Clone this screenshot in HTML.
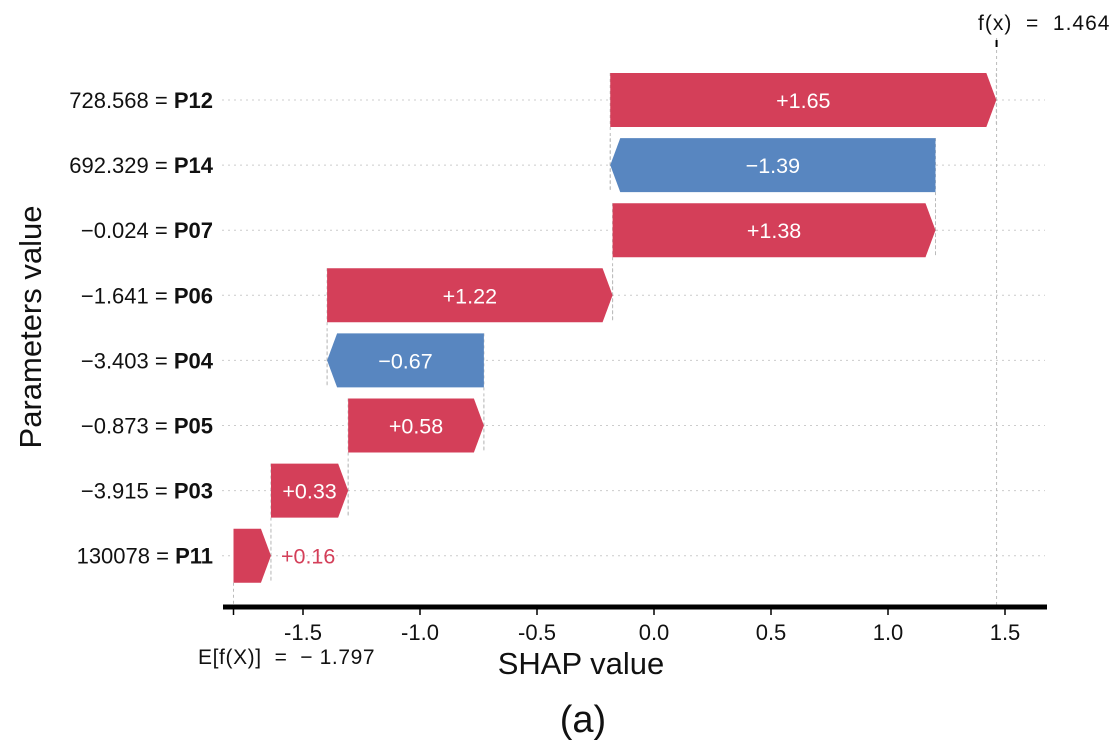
<!DOCTYPE html>
<html><head><meta charset="utf-8">
<style>
html,body{margin:0;padding:0;background:#fff;}
svg{display:block;font-family:"Liberation Sans",Arial,sans-serif;}
.pre{white-space:pre;}
</style></head>
<body>
<svg id="chart" width="1120" height="750" viewBox="0 0 1120 750"></svg>
<script>
const features = ["P12","P14","P07","P06","P04","P05","P03","P11"];
const featureValues = ["728.568","692.329","\u22120.024","\u22121.641","\u22123.403","\u22120.873","\u22123.915","130078"];
const shapValues = [1.65,-1.39,1.38,1.22,-0.67,0.58,0.33,0.16];
const baseValue = -1.797;
const outputValue = 1.464;
const xTicks = [-1.5,-1.0,-0.5,0.0,0.5,1.0,1.5];

const NS="http://www.w3.org/2000/svg";
const svg=document.getElementById('chart');
function X(v){return 654+v*234;}
function Y(i){return 100+i*65.1;}
function mk(tag,attrs,parent){const e=document.createElementNS(NS,tag);for(const k in attrs)e.setAttribute(k,attrs[k]);(parent||svg).appendChild(e);return e;}
const RED="#d43f59",BLUE="#5886c0";
const n=features.length;
for(let i=0;i<n;i++){
  const g=mk('line',{x1:222,x2:1045,y1:Y(i),y2:Y(i),stroke:'#ccc','stroke-width':1,'stroke-dasharray':'2,4'});
  
  
}
const starts=new Array(n),ends=new Array(n);
let cum=baseValue;
for(let i=n-1;i>=0;i--){starts[i]=cum;cum+=shapValues[i];ends[i]=cum;}
const fl=mk('line',{x1:X(outputValue),x2:X(outputValue),y1:38,y2:605,stroke:'#bbb','stroke-width':1,'stroke-dasharray':'3,3'});


mk('line',{x1:X(outputValue),x2:X(outputValue),y1:40,y2:47,stroke:'#000','stroke-width':2});
const bl=mk('line',{x1:X(baseValue),x2:X(baseValue),y1:Y(n-1)+27,y2:605,stroke:'#bbb','stroke-width':1,'stroke-dasharray':'3,3'});


for(let i=0;i<n-1;i++){
  const c=mk('line',{x1:X(starts[i]),x2:X(starts[i]),y1:Y(i)-27,y2:Y(i+1)+27,stroke:'#bbb','stroke-width':1,'stroke-dasharray':'3,3'});
  
  
}
for(let i=0;i<n;i++){
  const c=mk('line',{x1:X(ends[i]),x2:X(ends[i]),y1:Y(i)-27,y2:Y(i)+27,stroke:'#bbb','stroke-width':1,'stroke-dasharray':'3,3'});
  
  
}
for(let i=0;i<n;i++){
  const v=shapValues[i],y=Y(i),h=27,a=10;
  const x0=X(starts[i]),x1=X(ends[i]);
  let pts;
  if(v>=0){const xb=Math.max(x0,x1-a);pts=`${x0},${y-h} ${xb},${y-h} ${x1},${y} ${xb},${y+h} ${x0},${y+h}`;}
  else{const xb=Math.min(x0,x1+a);pts=`${x0},${y-h} ${xb},${y-h} ${x1},${y} ${xb},${y+h} ${x0},${y+h}`;}
  const p=mk('polygon',{points:pts,fill:v>=0?RED:BLUE});
  
  
  const lbl=(v>=0?'+':'\u2212')+Math.abs(v).toFixed(2);
  const w=Math.abs(x1-x0);
  let t;
  if(w>70){t=mk('text',{x:(x0+x1)/2,y:y+8,'text-anchor':'middle','font-size':21.5,fill:'#fff'});}
  else{t=mk('text',{x:Math.max(x0,x1)+10,y:y+8,'text-anchor':'start','font-size':21.5,fill:v>=0?RED:BLUE});}
  t.textContent=lbl;
  
  
  const yl=mk('text',{x:213,y:y+8,'text-anchor':'end','font-size':22,fill:'#111'});
  
  
  const s1=mk('tspan',{},yl);s1.textContent=featureValues[i]+' = ';
  const s2=mk('tspan',{'font-weight':'bold'},yl);s2.textContent=features[i];
}
const ax=mk('line',{x1:223,x2:1047,y1:607,y2:607,stroke:'#000','stroke-width':5});


mk('line',{x1:X(baseValue),x2:X(baseValue),y1:609,y2:615,stroke:'#000','stroke-width':1.5});
for(const tv of xTicks){
  mk('line',{x1:X(tv),x2:X(tv),y1:609,y2:615,stroke:'#000','stroke-width':1.5});
  const t=mk('text',{x:X(tv),y:640,'text-anchor':'middle','font-size':22,fill:'#111'});
  t.textContent=tv.toFixed(1);
  
  
}
const eb=mk('text',{x:198,y:664,'font-size':21,fill:'#111',class:'pre','letter-spacing':'0.6'});
eb.textContent='E[f(X)]  =  \u2212 1.797';


const fx=mk('text',{x:978,y:30,'font-size':21,fill:'#111',class:'pre','letter-spacing':'1'});
fx.textContent='f(x)  =  1.464';


const xt=mk('text',{x:581,y:674,'text-anchor':'middle','font-size':31,fill:'#111'});
xt.textContent='SHAP value';


const yt=mk('text',{x:0,y:0,'text-anchor':'middle','font-size':31,fill:'#111',transform:'translate(41,327) rotate(-90)'});
yt.textContent='Parameters value';


const cap=mk('text',{x:583,y:732,'text-anchor':'middle','font-size':38,fill:'#111'});
cap.textContent='(a)';


</script>
</body></html>
